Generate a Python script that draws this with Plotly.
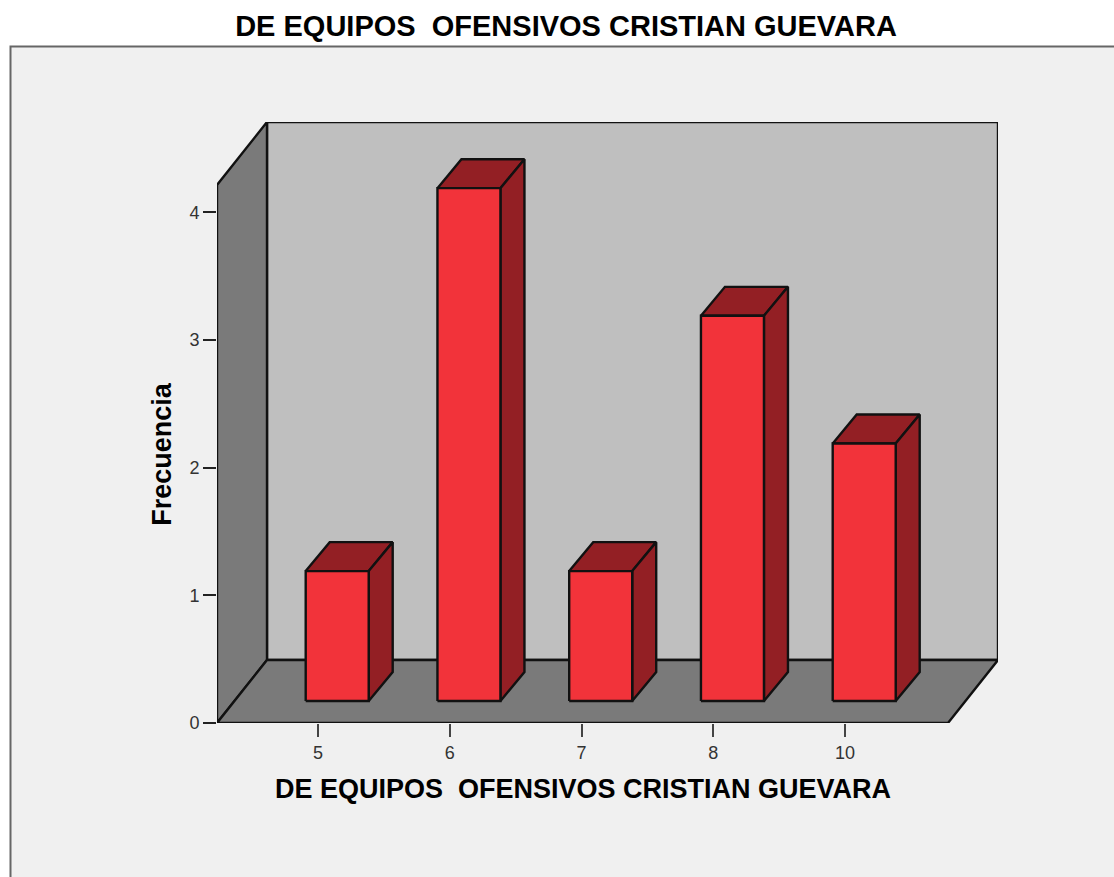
import plotly.graph_objects as go

categories = ["5", "6", "7", "8", "10"]
frequencies = [1, 4, 1, 3, 2]
y_ticks = [0, 1, 2, 3, 4]
title_text = "DE EQUIPOS\u00a0\u00a0OFENSIVOS CRISTIAN GUEVARA"
y_title = "Frecuencia"

W, H = 1114, 877
L, R, T, B = 217, 998, 122, 723.5  # plot-area pixel box
X0_PX, X_UNIT = 318, 131.75        # pixel of first category and per-category step
Y_UNIT = 127.75
x_range = [(L - X0_PX) / X_UNIT, (R - X0_PX) / X_UNIT]
y_range = [0, (B - T) / Y_UNIT]

# oblique depth of the box and of the bars, in axis units
BOX_DX, BOX_DY = 50 / X_UNIT, 63 / Y_UNIT
BAR_DX, BAR_DY = 24 / X_UNIT, 29 / Y_UNIT
BAR_LEFT, BAR_W = -12.3 / X_UNIT, 63 / X_UNIT
BAR_BASE, BAR_LIFT = 22 / Y_UNIT, 0.19
WALL_TOP = y_range[1] - BOX_DY
XF0, XF1 = x_range[0], x_range[1] - BOX_DX

EDGE = "#111111"
WALL = "#bfbfbf"
SIDE = "#7a7a7a"
RED = "#f2333a"
DARK = "#931f24"

fig = go.Figure()


def face(xs, ys, color, width=2.4):
    fig.add_trace(go.Scatter(
        x=xs + xs[:1], y=ys + ys[:1], mode="lines", fill="toself",
        fillcolor=color, line=dict(color=EDGE, width=width),
        hoverinfo="skip", showlegend=False, cliponaxis=False,
    ))


# back wall, left wall, floor
face([XF0 + BOX_DX, XF1 + BOX_DX, XF1 + BOX_DX, XF0 + BOX_DX],
     [BOX_DY, BOX_DY, y_range[1], y_range[1]], WALL)
face([XF0, XF0 + BOX_DX, XF0 + BOX_DX, XF0],
     [0, BOX_DY, y_range[1], WALL_TOP], SIDE)
face([XF0, XF1, XF1 + BOX_DX, XF0 + BOX_DX],
     [0, 0, BOX_DY, BOX_DY], SIDE)

# bars
for i, v in enumerate(frequencies):
    x0 = i + BAR_LEFT
    x1 = x0 + BAR_W
    y0 = BAR_BASE
    y1 = v + BAR_LIFT
    face([x0, x1, x1 + BAR_DX, x0 + BAR_DX], [y1, y1, y1 + BAR_DY, y1 + BAR_DY], DARK)
    face([x1, x1 + BAR_DX, x1 + BAR_DX, x1], [y0, y0 + BAR_DY, y1 + BAR_DY, y1], DARK)
    face([x0, x1, x1, x0], [y0, y0, y1, y1], RED)

TEXT = dict(family="Liberation Sans, Arial, sans-serif", color="#000000")
TICK = dict(family="Liberation Sans, Arial, sans-serif", color="#333333", size=18)


# "paper" refs are relative to the plot area
def px(x):
    return (x - L) / (R - L)


def py(y):
    return (B - y) / (B - T)


fig.update_layout(
    width=W, height=H,
    margin=dict(l=L, r=W - R, t=T, b=H - B, pad=0),
    paper_bgcolor="#ffffff",
    plot_bgcolor="rgba(0,0,0,0)",
    showlegend=False,
    title=dict(text=f"<b>{title_text}</b>", x=566 / W, y=1 - 26 / H,
               xanchor="center", yanchor="middle", font=dict(size=29, **TEXT)),
    xaxis=dict(range=x_range, tickmode="array", tickvals=list(range(len(categories))),
               ticktext=categories, ticks="outside", ticklen=13, tickwidth=2,
               tickcolor="#444444", tickfont=TICK, showgrid=False, zeroline=False,
               showline=False, fixedrange=True),
    yaxis=dict(range=y_range, tickmode="array", tickvals=y_ticks, ticks="outside",
               ticklen=13, tickwidth=2, tickcolor="#222222", tickfont=TICK,
               showgrid=False, zeroline=False, showline=False, fixedrange=True),
    shapes=[dict(type="rect", xref="paper", yref="paper", layer="below",
                 x0=px(10.5), x1=px(W + 20), y0=py(H + 20), y1=py(46.5),
                 fillcolor="#f0f0f0", line=dict(color="#666666", width=2))],
    annotations=[
        dict(text=f"<b>{title_text}</b>", xref="paper", yref="paper",
             x=px(583), y=py(790), xanchor="center", yanchor="middle",
             showarrow=False, font=dict(size=27, **TEXT)),
        dict(text=f"<b>{y_title}</b>", xref="paper", yref="paper",
             x=px(162), y=py(454), xanchor="center", yanchor="middle", textangle=-90,
             showarrow=False, font=dict(size=27, **TEXT)),
    ],
)

fig.write_html("out.html", config=dict(displayModeBar=False),
               post_script="document.body.style.margin='0';document.body.style.overflow='hidden';")
